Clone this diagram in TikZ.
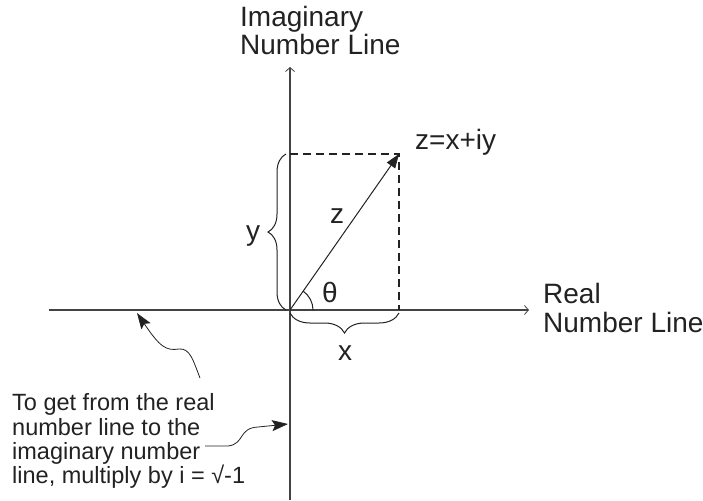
\documentclass[tikz,border=0pt]{standalone}
\usepackage{fontspec}
\setmainfont{Liberation Sans}
\usetikzlibrary{arrows.meta,decorations.pathreplacing,calc}
\definecolor{ink}{HTML}{222222}
\begin{document}
\begin{tikzpicture}[x=1pt,y=-1pt,
  big/.style={font=\fontsize{28}{29}\selectfont, text=ink, inner sep=0pt},
  small/.style={font=\fontsize{23.5}{24.5}\selectfont, text=ink, inner sep=0pt, anchor=base west},
  axis/.style={draw=ink!85, line width=1.3pt, -{Straight Barb[length=4pt,width=9pt,line width=0.8pt]}},
  guide/.style={draw=ink, line width=1.2pt, dash pattern=on 8pt off 5pt},
  vec/.style={draw=ink, line width=1pt, -{Triangle[length=14pt,width=10pt]}},
  curvy/.style={draw=ink, line width=0.8pt, -{Stealth[length=16pt,width=11pt,inset=3pt]}},
  bracestyle/.style={draw=ink, line width=1pt, decorate},
]
\useasboundingbox (0,0) rectangle (703,500);
% coordinates
\coordinate (O) at (290,310);
\coordinate (Z) at (399,154);
\coordinate (yaxT) at (290,67);
\coordinate (yaxB) at (290,500);
\coordinate (xaxL) at (49,310);
\coordinate (xaxR) at (529,310);
\coordinate (Zy) at (290,154);
\coordinate (Zx) at (399,310);
\coordinate (arc0) at (313,310);
% axes
\draw[axis] (yaxB) -- (yaxT);
\draw[axis] (xaxL) -- (xaxR);
% dashed guides
\draw[guide] (Zy) -- (Z) -- (Zx);
% vector
\draw[vec] (O) -- (Z);
% angle arc
\draw[draw=ink, line width=1pt] (arc0) arc[start angle=0, end angle=-55.4, radius=23];
% braces
\draw[bracestyle, decoration={brace, amplitude=18pt}] (286,310) -- (286,154);
\draw[bracestyle, decoration={brace, amplitude=20pt}] (399,313) -- (290,313);
% labels
\node[big, anchor=base west] (imag1) at (240,27) {Imaginary};
\node[big, anchor=base west] (imag2) at (240,55) {Number Line};
\node[big, anchor=base west] (real1) at (543,303) {Real};
\node[big, anchor=base west] (real2) at (543,332) {Number Line};
\node[big, anchor=base west] (zlab) at (415,149) {z=x+iy};
\node[big, anchor=base] (zz) at (337,223) {z};
\node[big, anchor=base] (yy) at (253,240) {y};
\node[big, anchor=base] (xx) at (345,360) {x};
\node[big, anchor=base] (th) at (330,302) {θ};
% annotation
\node[small] (t1) at (12,410) {To get from the real};
\node[small] (t2) at (12,435) {number line to the};
\node[small] (t3) at (12,459) {imaginary number};
\node[small] (t4) at (12,483) {line, multiply by i = √-1};
\coordinate (c1s) at (200,378);
\coordinate (c1e) at (137,313);
\coordinate (c2s) at (205,446);
\coordinate (c2e) at (288,424);
\draw[curvy] (c1s) .. controls (193,360) and (190,348) .. (179,349) .. controls (166,351) and (160,347) .. (c1e);
\draw[curvy] (c2s) -- (228,446) .. controls (245,444) and (238,428) .. (258,427) -- (c2e);
\end{tikzpicture}
\end{document}
